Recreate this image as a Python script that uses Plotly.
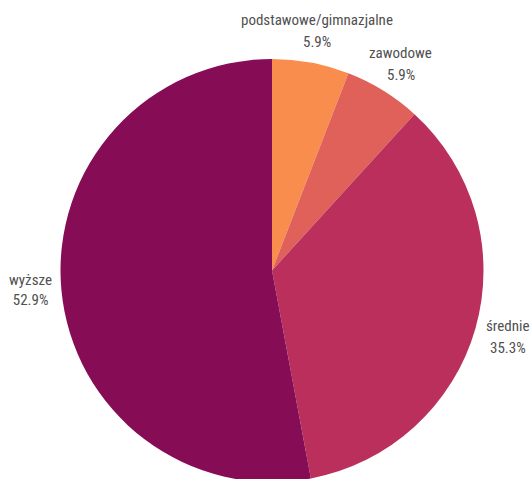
import math
import plotly.graph_objects as go

labels = ["podstawowe/gimnazjalne", "zawodowe", "średnie", "wyższe"]
values = [1, 1, 6, 9]
colors = ["#F98D4E", "#E0605A", "#BA2F5C", "#860C56"]

FONT = dict(family="Liberation Sans Narrow, Roboto Condensed, DejaVu Sans Condensed, sans-serif",
            size=15, color="#505050")

total = sum(values)
percents = [v / total for v in values]

# slices start at 12 o'clock going clockwise; labels of slices on the right
# half are centred on the slice's mid-angle, the left one uses plotly's
# own outside label
templates = []
annotations = []
cum = 0.0
label_dist = 0.575  # paper units (pie radius = 0.5)
for lab, p in zip(labels, percents):
    mid = (cum + p / 2) * 2 * math.pi
    cum += p
    if mid < math.pi:
        templates.append("")
        ax = 0.5 + label_dist * math.sin(mid)
        ay = 0.5 + label_dist * math.cos(mid)
        for txt, shift in ((lab, 11), (f"{p * 100:.1f}%", -11)):
            annotations.append(dict(
                x=ax, y=ay, xref="paper", yref="paper", yshift=shift,
                text=txt, showarrow=False, xanchor="center", yanchor="middle",
                font=FONT,
            ))
    else:
        templates.append("%{label}<br>%{percent:.1%}")

fig = go.Figure(go.Pie(
    labels=labels,
    values=values,
    sort=False,
    direction="clockwise",
    rotation=0,
    marker=dict(colors=colors, line=dict(width=0)),
    texttemplate=templates,
    textposition="outside",
    textfont=FONT,
    hoverinfo="label+percent",
    showlegend=False,
))

# the pie runs slightly past the bottom edge of the window, as in the original
fig.update_layout(
    width=531,
    height=487,
    margin=dict(l=59, r=46, t=59, b=2),
    paper_bgcolor="white",
    plot_bgcolor="white",
    annotations=annotations,
)

fig.write_html(
    "out.html",
    config={"displayModeBar": False},
    post_script=(
        "document.body.style.margin='0';"
        "document.body.style.overflow='hidden';"
        "document.documentElement.style.overflow='hidden';"
    ),
)
